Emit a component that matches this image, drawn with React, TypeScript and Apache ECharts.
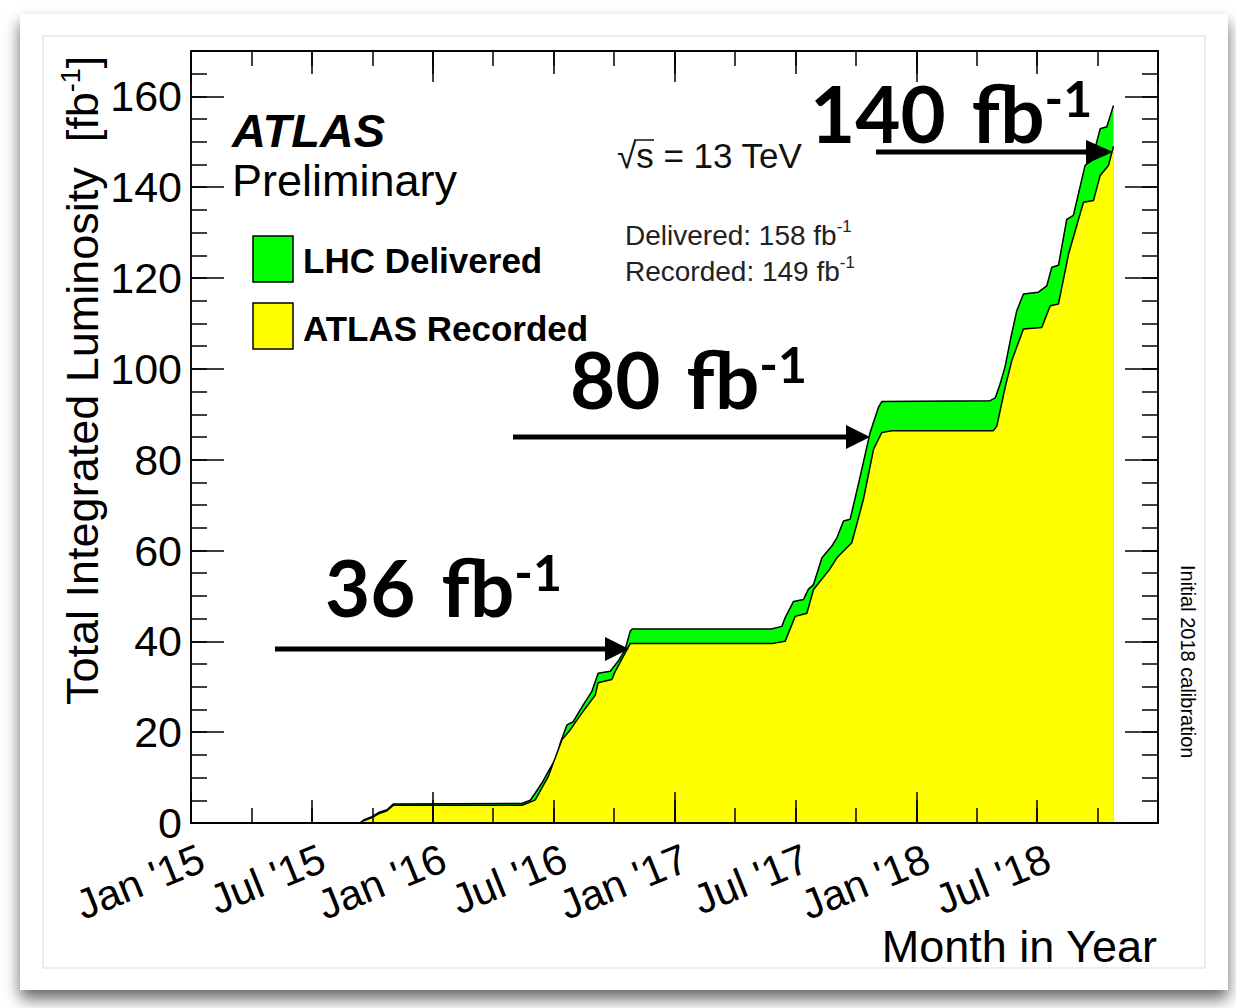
import React, { useEffect, useRef } from 'react';
import * as echarts from 'echarts';

// Time is measured in months since 1 Jan 2015; luminosity in fb^-1.
const deliveredMonths = [
  0, 8.4, 8.57, 8.98, 9.31, 9.73, 10.05,
  16.43, 16.84, 17.09, 17.42, 17.73, 18.16, 18.33, 18.66, 18.97, 19.47, 19.9, 20.21, 20.81, 21.2, 21.55, 21.8, 21.9,
  28.8, 29.33, 29.49, 29.91, 30.4, 30.65, 30.9, 31.32, 31.81, 32.06, 32.39, 32.72, 33.22, 33.71, 34.12, 34.29,
  39.67, 39.92, 40.15, 40.41, 40.7, 40.99, 41.32, 42.06, 42.48, 42.73, 43.06, 43.47, 43.8, 44.38, 44.72, 45.13, 45.46, 45.79,
];
const deliveredLumi = [
  0, 0, 0.66, 1.4, 2.3, 2.9, 4.2,
  4.3, 5.0, 6.6, 8.8, 11.3, 14.6, 17.6, 21.6, 22.3, 26.0, 29.0, 33.0, 33.4, 35.6, 38.2, 42.2, 42.7,
  42.7, 43.3, 45.2, 48.8, 49.2, 51.5, 52.5, 58.4, 61.0, 62.8, 66.5, 66.9, 76.4, 86.0, 91.5, 92.8,
  93.0, 93.6, 96.5, 100.5, 107.0, 112.8, 116.5, 116.9, 118.3, 122.4, 122.8, 132.9, 133.8, 144.8, 145.9, 152.9, 153.3, 158.0,
];

const recordedMonths = [
  0, 8.4, 8.57, 8.98, 9.31, 9.73, 10.05,
  16.43, 16.84, 17.09, 17.73, 18.41, 18.82, 19.4, 20.07, 20.21, 20.89, 21.06, 21.46, 21.8,
  28.83, 29.49, 29.99, 30.57, 30.9, 31.69, 32.06, 32.8, 33.38, 33.88, 34.29, 34.79,
  39.83, 40.0, 40.41, 40.74, 41.32, 42.23, 42.65, 43.06, 43.56, 44.3, 44.8, 45.13, 45.54, 45.79,
];
const recordedLumi = [
  0, 0, 0.5, 1.2, 2.0, 2.7, 3.9,
  3.9, 4.6, 5.1, 10.2, 18.3, 20.5, 24.2, 28.2, 30.9, 31.6, 33.4, 36.7, 39.5,
  39.5, 40.0, 45.5, 46.2, 51.4, 55.8, 58.4, 61.7, 71.3, 82.3, 86.0, 86.4,
  86.4, 87.4, 95.9, 101.8, 108.8, 109.1, 113.9, 114.3, 125.3, 136.7, 137.1, 142.6, 144.8, 149.0,
];

// Labels for the half-year ticks (0, 6, 12, ... months)
const xTickLabels = ["Jan '15", "Jul '15", "Jan '16", "Jul '16", "Jan '17", "Jul '17", "Jan '18", "Jul '18", ''];

const legendNames = ['LHC Delivered', 'ATLAS Recorded'];
const deliveredTotal = 158;
const recordedTotal = 149;
const milestones = ['36', '80', '140'];

const SANS = 'Liberation Sans, Arial, Helvetica, sans-serif';
const BIG = 'Lato, Open Sans, sans-serif';
const GREEN = '#00ff00';
const YELLOW = '#ffff00';

const axisLine = { show: true, onZero: false, lineStyle: { color: '#000', width: 1.5 } };

function xLayer(position: 'bottom' | 'top', interval: number, length: number, labels: boolean) {
  return {
    type: 'value',
    position,
    min: 0,
    max: 48,
    interval,
    z: 10,
    axisLine,
    splitLine: { show: false },
    axisTick: { show: true, inside: true, length, lineStyle: { color: '#000', width: 1.5 } },
    axisLabel: labels
      ? {
          show: true,
          rotate: 22,
          margin: 38,
          padding: [0, -12, 0, 0],
          fontSize: 42,
          fontFamily: SANS,
          color: '#000',
          formatter: (v: number) => xTickLabels[Math.round(v / 6)] ?? '',
        }
      : { show: false },
  };
}

function yLayer(position: 'left' | 'right', interval: number, length: number, labels: boolean) {
  return {
    type: 'value',
    position,
    min: 0,
    max: 170,
    interval,
    z: 10,
    axisLine,
    splitLine: { show: false },
    axisTick: { show: true, inside: true, length, lineStyle: { color: '#000', width: 1.5 } },
    axisLabel: labels
      ? { show: true, margin: 9, fontSize: 43, fontFamily: SANS, color: '#000', showMaxLabel: false }
      : { show: false },
  };
}

function arrow(x1: number, x2: number, y: number, head: number, half: number) {
  return [
    { type: 'line', shape: { x1, y1: y, x2: x2 - head + 2, y2: y }, style: { stroke: '#000', lineWidth: 5 }, z: 20 },
    {
      type: 'polygon',
      shape: { points: [[x2 - head, y - half], [x2, y], [x2 - head, y + half]] },
      style: { fill: '#000' },
      z: 20,
    },
  ];
}

function bigLabel(value: string, x: number, y: number) {
  return {
    type: 'text',
    x,
    y,
    z: 20,
    style: {
      text: `{n|${value}}{g| }{n|fb}{s|-1}`,
      align: 'left',
      verticalAlign: 'middle',
      textAlign: 'left',
      textVerticalAlign: 'middle',
      rich: {
        n: { fontFamily: BIG, fontWeight: 'bold', fontSize: 78, fill: '#000', lineHeight: 80 },
        g: { fontFamily: BIG, fontWeight: 'bold', fontSize: 78, fill: '#000', lineHeight: 80, width: 26 },
        s: { fontFamily: BIG, fontWeight: 'bold', fontSize: 50, fill: '#000', verticalAlign: 'top', lineHeight: 80 },
      },
    },
  };
}

function supText(main: string, x: number, y: number, size: number) {
  return {
    type: 'text',
    x,
    y,
    z: 20,
    style: {
      text: `{m|${main}}{s|-1}`,
      align: 'left',
      verticalAlign: 'middle',
      textAlign: 'left',
      textVerticalAlign: 'middle',
      rich: {
        m: { fontFamily: SANS, fontSize: size, fill: '#222', lineHeight: size * 1.2 },
        s: { fontFamily: SANS, fontSize: size * 0.6, fill: '#222', verticalAlign: 'top', lineHeight: size * 1.2 },
      },
    },
  };
}

const option = {
  animation: false,
  backgroundColor: '#ffffff',
  grid: { left: 191, top: 51, right: 78, bottom: 185, containLabel: false },
  xAxis: [
    xLayer('bottom', 12, 31, false),
    xLayer('bottom', 6, 23, true),
    xLayer('bottom', 3, 15, false),
    xLayer('top', 12, 31, false),
    xLayer('top', 6, 23, false),
    xLayer('top', 3, 15, false),
  ],
  yAxis: [
    yLayer('left', 20, 33, true),
    yLayer('left', 5, 16, false),
    yLayer('right', 20, 33, false),
    yLayer('right', 5, 16, false),
  ],
  series: [
    {
      type: 'line',
      name: legendNames[0],
      xAxisIndex: 0,
      yAxisIndex: 0,
      data: deliveredMonths.map((m, i) => [m, deliveredLumi[i]]),
      showSymbol: false,
      silent: true,
      z: 2,
      lineStyle: { color: '#000', width: 1.5 },
      areaStyle: { color: GREEN, opacity: 1 },
    },
    {
      type: 'line',
      name: legendNames[1],
      xAxisIndex: 0,
      yAxisIndex: 0,
      data: recordedMonths.map((m, i) => [m, recordedLumi[i]]),
      showSymbol: false,
      silent: true,
      z: 3,
      lineStyle: { color: '#000', width: 1.5 },
      areaStyle: { color: YELLOW, opacity: 1 },
    },
  ],
  graphic: {
    elements: [
      // card and its inner border
      {
        type: 'rect',
        z: -10,
        shape: { x: 20, y: 14, width: 1208, height: 976 },
        style: { fill: '#fff', shadowBlur: 16, shadowColor: 'rgba(0,0,0,0.6)', shadowOffsetY: 9 },
      },
      {
        type: 'rect',
        z: -9,
        shape: { x: 43, y: 36, width: 1162, height: 932 },
        style: { fill: 'none', stroke: '#e8e8e8', lineWidth: 1.5 },
      },
      // axis titles
      {
        type: 'text',
        x: 82,
        y: 705,
        rotation: Math.PI / 2,
        z: 20,
        style: {
          text: '{t|Total Integrated Luminosity  [fb}{s|-1}{t|]}',
          align: 'left',
          verticalAlign: 'middle',
          textAlign: 'left',
          textVerticalAlign: 'middle',
          rich: {
            t: { fontFamily: SANS, fontSize: 45, fill: '#000', lineHeight: 50 },
            s: { fontFamily: SANS, fontSize: 27, fill: '#000', verticalAlign: 'top', lineHeight: 50 },
          },
        },
      },
      {
        type: 'text',
        x: 1157,
        y: 946,
        z: 20,
        style: {
          text: 'Month in Year',
          fontFamily: SANS,
          fontSize: 45,
          fill: '#000',
          align: 'right',
          verticalAlign: 'middle',
          textAlign: 'right',
          textVerticalAlign: 'middle',
        },
      },
      // experiment label
      {
        type: 'text',
        x: 232,
        y: 130,
        z: 20,
        style: {
          text: 'ATLAS',
          fontFamily: SANS,
          fontSize: 47,
          fontWeight: 'bold',
          fontStyle: 'italic',
          fill: '#000',
          verticalAlign: 'middle',
          textVerticalAlign: 'middle',
        },
      },
      {
        type: 'text',
        x: 232,
        y: 180,
        z: 20,
        style: {
          text: 'Preliminary',
          fontFamily: SANS,
          fontSize: 45,
          fill: '#000',
          verticalAlign: 'middle',
          textVerticalAlign: 'middle',
        },
      },
      // legend
      {
        type: 'rect',
        z: 20,
        shape: { x: 253, y: 236, width: 40, height: 46 },
        style: { fill: GREEN, stroke: '#000', lineWidth: 1.5 },
      },
      {
        type: 'rect',
        z: 20,
        shape: { x: 253, y: 303, width: 40, height: 46 },
        style: { fill: YELLOW, stroke: '#000', lineWidth: 1.5 },
      },
      ...legendNames.map((name, i) => ({
        type: 'text',
        x: 303,
        y: 260 + i * 68,
        z: 20,
        style: {
          text: name,
          fontFamily: SANS,
          fontSize: 35,
          fontWeight: 'bold',
          fill: '#000',
          verticalAlign: 'middle',
          textVerticalAlign: 'middle',
        },
      })),
      // energy and totals
      {
        type: 'text',
        x: 617,
        y: 155,
        z: 20,
        style: {
          text: '√s = 13 TeV',
          fontFamily: SANS,
          fontSize: 35,
          fill: '#111',
          verticalAlign: 'middle',
          textVerticalAlign: 'middle',
        },
      },
      {
        type: 'line',
        z: 20,
        shape: { x1: 634, y1: 140, x2: 654, y2: 140 },
        style: { stroke: '#111', lineWidth: 1.5 },
      },
      supText(`Delivered: ${deliveredTotal} fb`, 625, 235, 28),
      supText(`Recorded: ${recordedTotal} fb`, 625, 271, 28),
      {
        type: 'text',
        x: 1188,
        y: 565,
        rotation: -Math.PI / 2,
        z: 20,
        style: {
          text: 'Initial 2018 calibration',
          fontFamily: SANS,
          fontSize: 20,
          fill: '#000',
          align: 'left',
          verticalAlign: 'middle',
          textAlign: 'left',
          textVerticalAlign: 'middle',
        },
      },
      // milestone annotations
      ...arrow(275, 629, 649, 24, 12),
      ...arrow(513, 870, 437, 24, 12),
      ...arrow(876, 1113, 152, 27, 12),
      bigLabel(milestones[0], 325, 587),
      bigLabel(milestones[1], 570, 379),
      bigLabel(milestones[2], 810, 113),
    ],
  },
};

export default function App() {
  const ref = useRef<HTMLDivElement>(null);
  useEffect(() => {
    const chart = echarts.init(ref.current as HTMLDivElement, undefined, { renderer: 'svg' });
    chart.setOption(option as any);
    return () => chart.dispose();
  }, []);
  return (
    <div
      ref={ref}
      style={{ position: 'fixed', left: 0, top: 0, width: 1236, height: 1008, background: '#fff' }}
    />
  );
}
